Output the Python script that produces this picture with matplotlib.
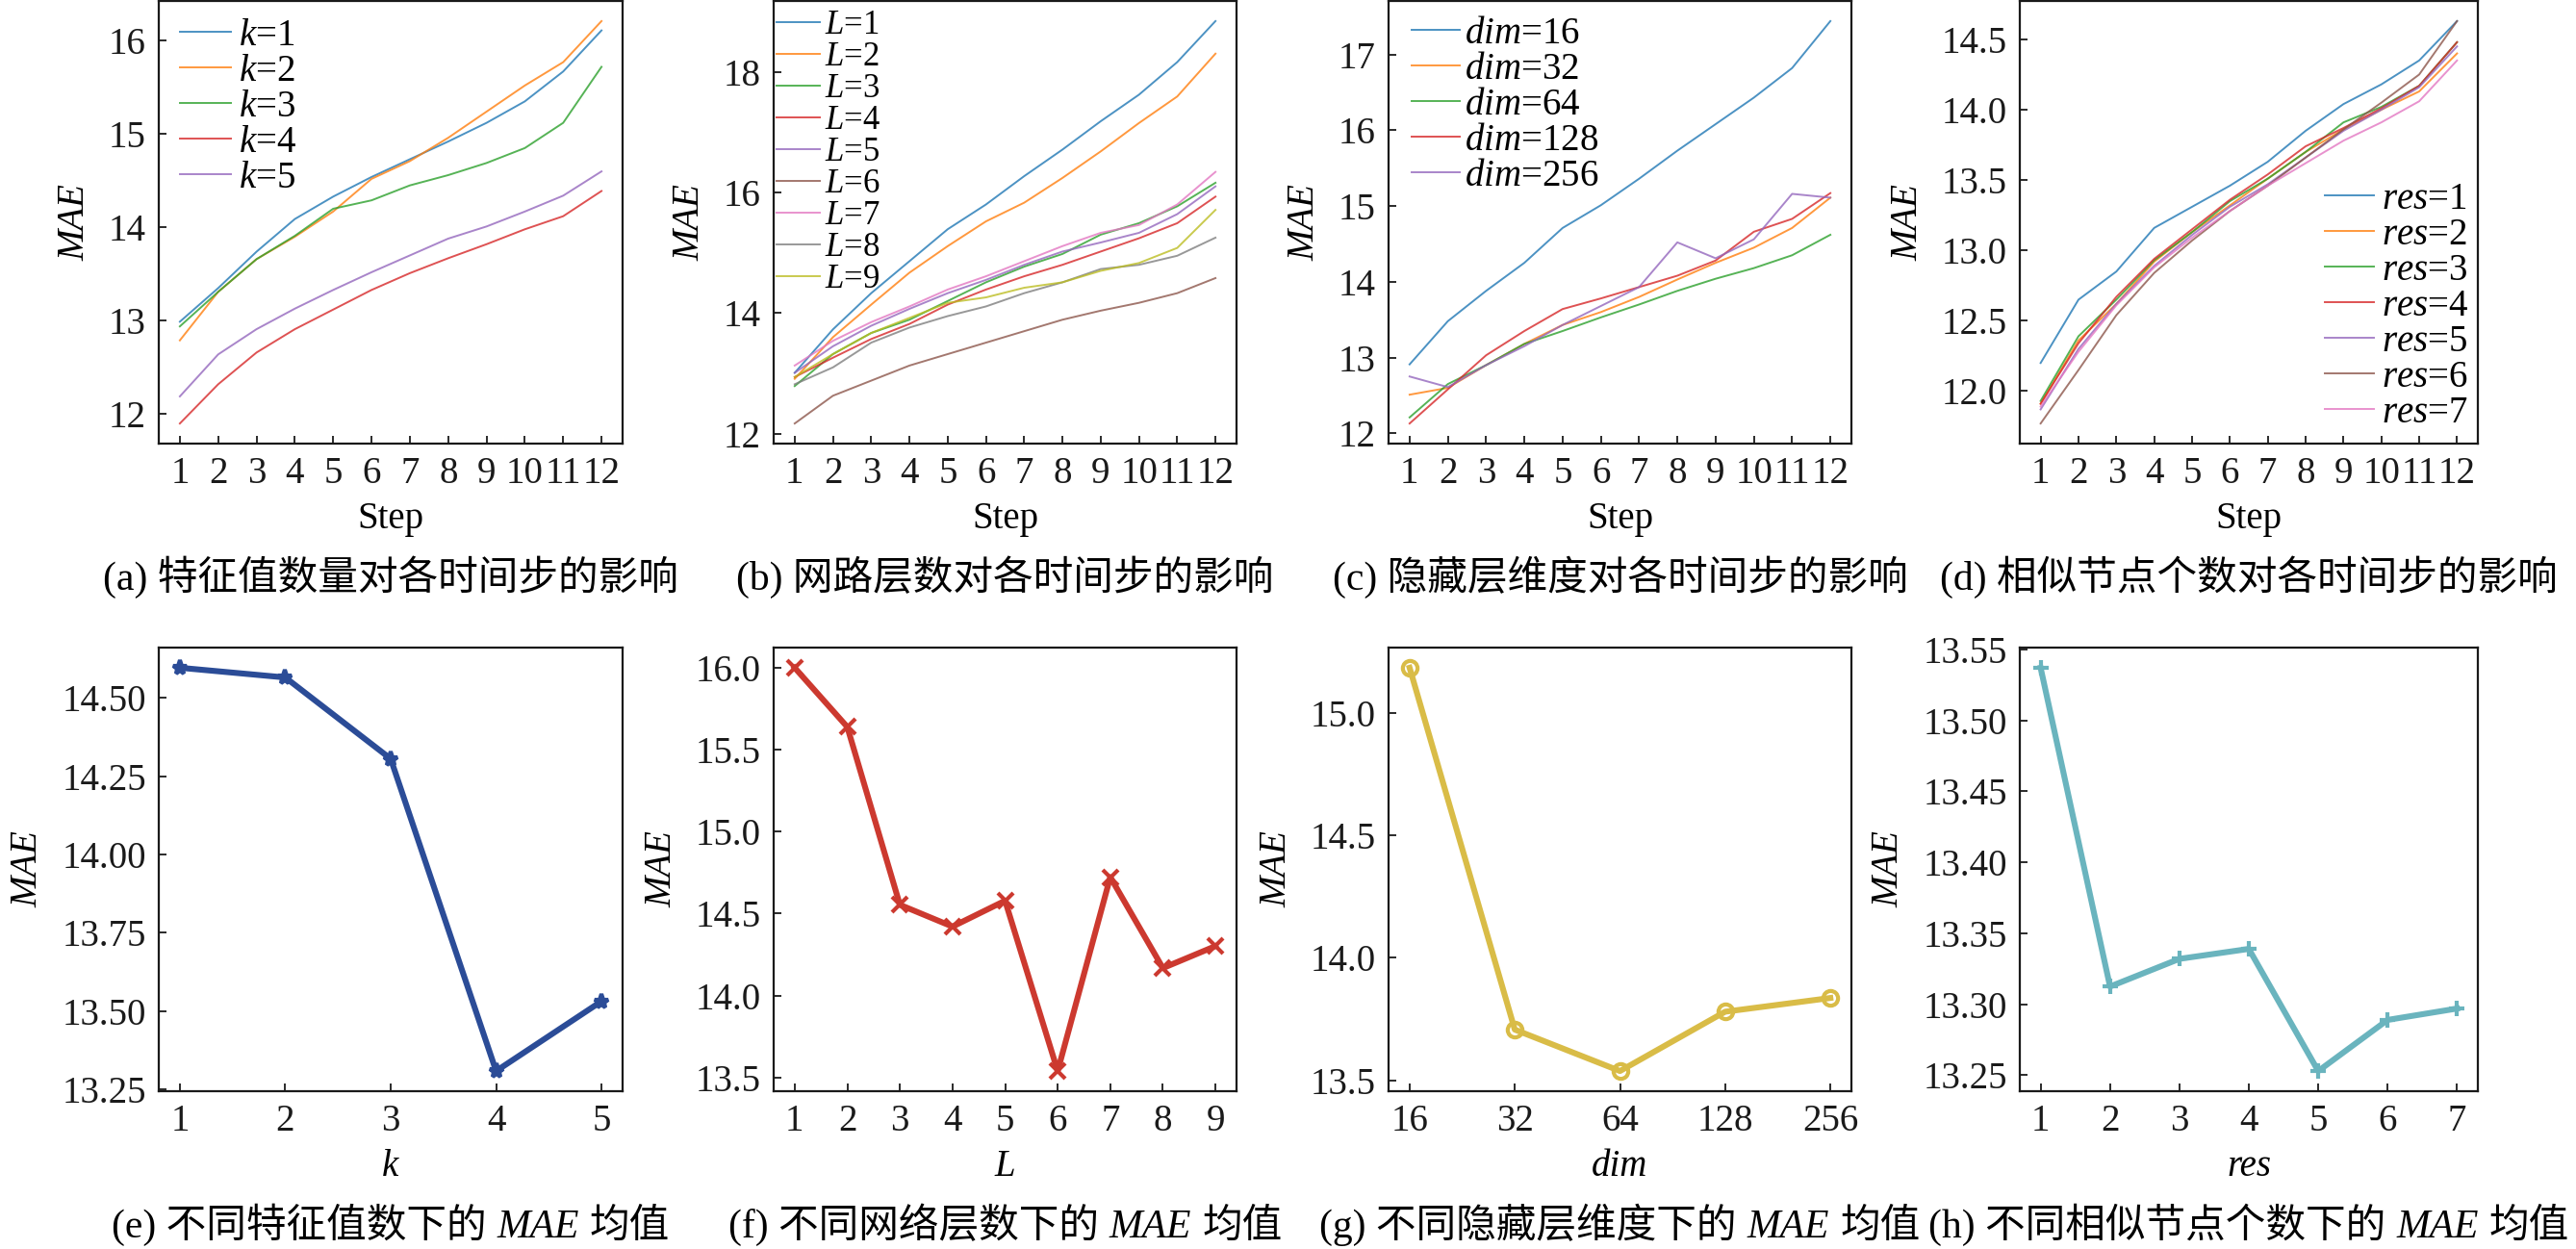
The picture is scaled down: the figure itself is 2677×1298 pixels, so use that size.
import numpy as np
import matplotlib.pyplot as plt
from matplotlib.ticker import MultipleLocator

plt.rcParams['font.family'] = ['Liberation Serif', 'Noto Sans CJK SC']
plt.rcParams['mathtext.fontset'] = 'custom'
plt.rcParams['mathtext.it'] = 'Liberation Serif:italic'
plt.rcParams['mathtext.rm'] = 'Liberation Serif'

steps = np.arange(1, 13)

# (a) number of eigenvalues k, MAE per step
k_labels = ['1', '2', '3', '4', '5']
k_curves = [
    [12.99, 13.35, 13.74, 14.09, 14.33, 14.54, 14.73, 14.92, 15.12, 15.35, 15.67, 16.11],
    [12.79, 13.31, 13.66, 13.90, 14.17, 14.52, 14.71, 14.96, 15.24, 15.52, 15.77, 16.21],
    [12.94, 13.31, 13.66, 13.91, 14.20, 14.29, 14.45, 14.56, 14.69, 14.85, 15.12, 15.72],
    [11.90, 12.32, 12.66, 12.91, 13.12, 13.33, 13.51, 13.67, 13.82, 13.98, 14.12, 14.39],
    [12.19, 12.64, 12.91, 13.13, 13.33, 13.52, 13.70, 13.88, 14.01, 14.17, 14.34, 14.60],
]

# (b) number of layers L
L_labels = ['1', '2', '3', '4', '5', '6', '7', '8', '9']
L_curves = [
    [13.01, 13.73, 14.33, 14.86, 15.39, 15.80, 16.27, 16.71, 17.18, 17.62, 18.16, 18.84],
    [12.91, 13.60, 14.14, 14.67, 15.11, 15.52, 15.83, 16.24, 16.68, 17.15, 17.59, 18.30],
    [12.79, 13.32, 13.67, 13.89, 14.20, 14.51, 14.77, 14.98, 15.30, 15.49, 15.77, 16.16],
    [12.94, 13.26, 13.57, 13.82, 14.14, 14.39, 14.61, 14.80, 15.02, 15.24, 15.49, 15.93],
    [13.01, 13.45, 13.79, 14.07, 14.33, 14.55, 14.80, 15.02, 15.17, 15.33, 15.64, 16.10],
    [12.17, 12.63, 12.88, 13.13, 13.32, 13.51, 13.70, 13.89, 14.04, 14.17, 14.33, 14.58],
    [13.13, 13.54, 13.85, 14.11, 14.39, 14.61, 14.86, 15.11, 15.33, 15.46, 15.80, 16.34],
    [12.82, 13.10, 13.51, 13.76, 13.95, 14.11, 14.33, 14.51, 14.73, 14.80, 14.95, 15.25],
    [12.94, 13.32, 13.67, 13.92, 14.17, 14.26, 14.42, 14.51, 14.70, 14.83, 15.08, 15.71],
]

# (c) hidden dimension dim
dim_labels = ['16', '32', '64', '128', '256']
dim_curves = [
    [12.91, 13.48, 13.88, 14.25, 14.71, 15.01, 15.36, 15.73, 16.08, 16.43, 16.82, 17.44],
    [12.51, 12.60, 12.90, 13.18, 13.43, 13.60, 13.80, 14.03, 14.25, 14.45, 14.71, 15.11],
    [12.21, 12.65, 12.90, 13.18, 13.35, 13.53, 13.70, 13.88, 14.04, 14.18, 14.35, 14.62],
    [12.13, 12.58, 13.03, 13.35, 13.64, 13.78, 13.93, 14.08, 14.28, 14.66, 14.83, 15.17],
    [12.75, 12.61, 12.90, 13.15, 13.43, 13.68, 13.93, 14.52, 14.31, 14.56, 15.16, 15.11],
]

# (d) number of similar nodes res
res_labels = ['1', '2', '3', '4', '5', '6', '7']
res_curves = [
    [12.20, 12.65, 12.85, 13.16, 13.31, 13.46, 13.63, 13.85, 14.04, 14.18, 14.35, 14.63],
    [11.91, 12.36, 12.62, 12.92, 13.13, 13.32, 13.51, 13.70, 13.86, 14.00, 14.13, 14.40],
    [11.93, 12.39, 12.65, 12.93, 13.13, 13.35, 13.51, 13.70, 13.91, 14.02, 14.17, 14.48],
    [11.91, 12.34, 12.67, 12.94, 13.15, 13.36, 13.54, 13.74, 13.87, 14.01, 14.17, 14.48],
    [11.87, 12.30, 12.62, 12.89, 13.11, 13.31, 13.47, 13.66, 13.85, 14.00, 14.16, 14.45],
    [11.77, 12.15, 12.54, 12.84, 13.07, 13.28, 13.46, 13.66, 13.86, 14.05, 14.25, 14.63],
    [11.89, 12.28, 12.61, 12.88, 13.09, 13.28, 13.46, 13.62, 13.78, 13.91, 14.06, 14.35],
]

# mean MAE per setting
k_mean = [14.597, 14.566, 14.306, 13.308, 13.531]
L_mean = [16.00, 15.639, 14.554, 14.421, 14.579, 13.540, 14.723, 14.168, 14.302]
dim_mean = [15.183, 13.707, 13.538, 13.780, 13.836]
res_mean = [13.537, 13.3125, 13.332, 13.339, 13.253, 13.289, 13.297]

W, H = 2677, 1298
fig = plt.figure(figsize=(W / 100, H / 100), dpi=100)


def px_axes(left, top, width, height):
    return fig.add_axes([left / W, 1 - (top + height) / H, width / W, height / H])


def style(ax):
    for s in ax.spines.values():
        s.set_linewidth(1.6)
        s.set_color('#1a1a1a')
    ax.tick_params(direction='in', length=6, width=1.3, labelsize=28, pad=9.5,
                   top=False, right=False, colors='#1a1a1a')
    ax.set_ylabel('MAE', fontstyle='italic', fontsize=28, labelpad=12)


lefts = [165, 804, 1443, 2099]
widths = [482, 481, 481, 476]
top_axes = [px_axes(l, 1, w, 460) for l, w in zip(lefts, widths)]
bot_axes = [px_axes(l, 673, w, 461) for l, w in zip(lefts, widths)]

# top row: per-step curves; legend offsets in pixels from the axes corner
top_specs = [
    (k_curves, k_labels, 'k', 1.0, 'upper left', (22, -18), 28, 1.36, 0.2),
    (L_curves, L_labels, 'L', 2.0, 'upper left', (3, -9.5), 25, 1.3, 0.14),
    (dim_curves, dim_labels, 'dim', 1.0, 'upper left', (24, -16), 28, 1.28, 0.13),
    (res_curves, res_labels, 'res', 0.5, 'lower right', (-10, 13), 28, 1.3, 0.2),
]
for ax, (curves, labels, name, step, loc, off, lfs, hlen, htp) in zip(top_axes, top_specs):
    for c, lab in zip(curves, labels):
        ax.plot(steps, c, lw=1.4, alpha=0.8, label=r'$%s$=%s' % (name, lab))
    ax.set_xticks(steps)
    ax.yaxis.set_major_locator(MultipleLocator(step))
    ax.set_xlabel('Step', fontsize=28, labelpad=7.2)
    style(ax)
    bb = ax.get_position()
    ax_w, ax_h = bb.width * W, bb.height * H
    anchor_x = 0 if 'left' in loc else 1
    anchor_y = 1 if 'upper' in loc else 0
    ax.legend(frameon=False, fontsize=lfs, loc=loc,
              bbox_to_anchor=(anchor_x + off[0] / ax_w, anchor_y + off[1] / ax_h),
              borderaxespad=0, borderpad=0, labelspacing=0,
              handlelength=hlen, handletextpad=htp)

# bottom row: mean MAE
bot_specs = [
    (k_mean, None, 'k', '#2b4c97', '*', 0.25),
    (L_mean, None, 'L', '#cc392f', 'x', 0.5),
    (dim_mean, dim_labels, 'dim', '#d9bc47', 'o', 0.5),
    (res_mean, None, 'res', '#6ab4be', '+', 0.05),
]
for ax, (vals, ticklabels, name, color, marker, step) in zip(bot_axes, bot_specs):
    if ticklabels is None:
        x = np.arange(1, len(vals) + 1)
        ax.set_xticks(x)
    else:
        x = np.arange(len(vals))
        ax.set_xticks(x, ticklabels)
    ax.plot(x, vals, color=color, lw=4.4, marker=marker, ms=11, mew=3,
            mfc='none' if marker == 'o' else color)
    ax.yaxis.set_major_locator(MultipleLocator(step))
    ax.set_xlabel(name, fontstyle='italic', fontsize=28, labelpad=7.2)
    style(ax)


def caption(ax, parts, base_px):
    # pieces set side by side so that MAE can be italic inside the Chinese caption
    texts = [fig.text(0, 1 - base_px / H, s, fontsize=30, va='baseline',
                      fontstyle='italic' if it else 'normal') for s, it in parts]
    fig.canvas.draw()
    r = fig.canvas.get_renderer()
    ws = [t.get_window_extent(r).width for t in texts]
    gap = 11
    total = sum(ws) + gap * (len(texts) - 1)
    bb = ax.get_position()
    x = (bb.x0 + bb.x1) / 2 * W - total / 2
    for t, w in zip(texts, ws):
        t.set_x(x / W)
        x += w + gap


top_caps = ['(a) 特征值数量对各时间步的影响', '(b) 网路层数对各时间步的影响',
            '(c) 隐藏层维度对各时间步的影响', '(d) 相似节点个数对各时间步的影响']
bot_caps = ['(e) 不同特征值数下的', '(f) 不同网络层数下的',
            '(g) 不同隐藏层维度下的', '(h) 不同相似节点个数下的']
for ax, cap in zip(top_axes, top_caps):
    caption(ax, [(cap, False)], 613)
for ax, cap in zip(bot_axes, bot_caps):
    caption(ax, [(cap, False), ('MAE', True), ('均值', False)], 1286)

fig.savefig('out.png', dpi=100)
